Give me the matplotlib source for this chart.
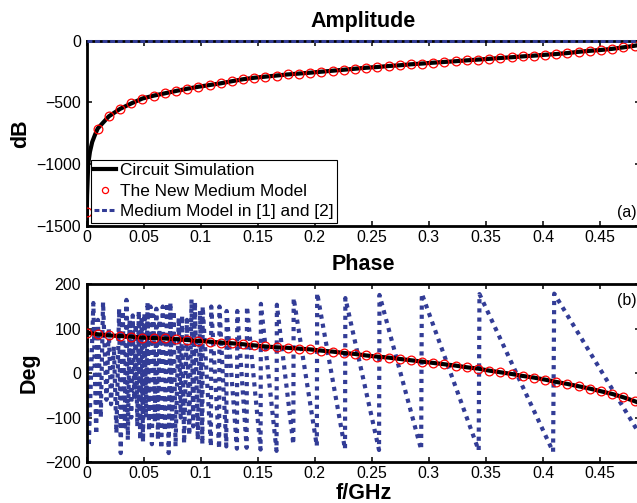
import matplotlib.pyplot as plt

plt.rcParams['font.family'] = ['Liberation Sans', 'DejaVu Sans']

# new medium model, sampled every 0.0098 GHz
model_f = [0.0, 0.0098, 0.0196, 0.0294, 0.0392, 0.049, 0.0588, 0.0686, 0.0784, 0.0882,
           0.098, 0.1078, 0.1176, 0.1274, 0.1372, 0.147, 0.1568, 0.1666, 0.1764, 0.1862,
           0.196, 0.2058, 0.2156, 0.2254, 0.2352, 0.245, 0.2548, 0.2646, 0.2744, 0.2842,
           0.294, 0.3038, 0.3136, 0.3234, 0.3332, 0.343, 0.3528, 0.3626, 0.3724, 0.3822,
           0.392, 0.4018, 0.4116, 0.4214, 0.4312, 0.441, 0.4508, 0.4606, 0.4704, 0.4802]
model_db = [-1385, -711, -612, -552, -508, -468, -445, -426, -407, -389,
            -373, -359, -345, -328, -312, -300, -291, -282, -273, -266,
            -259, -251, -243, -235, -227, -219, -213, -205, -199, -191,
            -185, -178, -172, -166, -159, -153, -147, -140, -134, -127,
            -121, -114, -108, -100, -90, -82, -75, -66, -54, -41]
model_deg = [91, 87.5, 85, 83.5, 82, 80, 79, 78, 76.5, 74.7,
             72.5, 71, 68.7, 67.2, 65, 62.5, 60, 58.2, 57, 55.2,
             53.5, 50.7, 48.5, 45.5, 43.2, 39.8, 37.2, 35, 32, 29,
             26, 23, 20, 17, 13.2, 10.2, 5.7, 2, -1.8, -6.3,
             -10, -14.6, -19.8, -24.3, -29.5, -34.8, -40.8, -46.8, -54.3, -63]

# circuit simulation (same curve, denser near 0, runs to the band edge)
sim_f = [0.0, 0.0005, 0.0015, 0.003, 0.005, 0.0075] + model_f[1:] + [0.485]
sim_db = [-1500, -1250, -1000, -900, -820, -760] + model_db[1:] + [-33]
sim_phase_f = model_f + [0.485]
sim_deg = model_deg + [-68]

# medium model in [1] and [2]
old_amp_f = [0.0, 0.485]
old_db = [0, 0]
old_f = [0.0000, 0.0020, 0.0060, 0.0085, 0.0100, 0.0125, 0.0145, 0.0175, 0.0195, 0.0215,
         0.0240, 0.0262, 0.0286, 0.0300, 0.0318, 0.0335, 0.0350, 0.0362, 0.0378, 0.0392,
         0.0405, 0.0418, 0.0432, 0.0445, 0.0458, 0.0470, 0.0482, 0.0495, 0.0508, 0.0521,
         0.0535, 0.0548, 0.0560, 0.0573, 0.0586, 0.0598, 0.0612, 0.0626, 0.0640, 0.0655,
         0.0668, 0.0685, 0.0706, 0.0720, 0.0735, 0.0750, 0.0764, 0.0780, 0.0808, 0.0825,
         0.0838, 0.0855, 0.0880, 0.0900, 0.0920, 0.0935, 0.0950, 0.0975, 0.0995, 0.1015,
         0.1018, 0.1090, 0.1093, 0.1162, 0.1165, 0.1225, 0.1228, 0.1318, 0.1321, 0.1403,
         0.1406, 0.1525, 0.1528, 0.1665, 0.1668, 0.1812, 0.1815, 0.2018, 0.2021, 0.2265,
         0.2268, 0.2563, 0.2567, 0.2932, 0.2938, 0.3436, 0.3443, 0.4088, 0.4098, 0.485]
old_deg = [118, -165, 158, -138, 120, -100, 160, -60, 100, -70,
           60, -135, 145, -180, 140, -120, 165, -150, 120, -100,
           130, -60, 110, -120, 140, -150, 125, -155, 135, -100,
           160, -130, 150, -160, 130, -110, 145, -150, 120, -170,
           150, -130, 158, -180, 159, -120, 140, -165, 125, -100,
           130, -158, 120, -140, 166, -120, 160, -150, 140, -160,
           150, -165, 150, -170, 150, -165, 140, -170, 140, -168,
           150, -172, 156, -175, 154, -160, 169, -164, 180, -171,
           169, -173, 176, -172, 179, -174, 178, -177, 179, -139]

xticks = [0, 0.05, 0.1, 0.15, 0.2, 0.25, 0.3, 0.35, 0.4, 0.45]
xlabels = ['0', '0.05', '0.1', '0.15', '0.2', '0.25', '0.3', '0.35', '0.4', '0.45']
amp_ticks = [-1500, -1000, -500, 0]
amp_labels = ['\u22121500', '\u22121000', '\u2212500', '0']
deg_ticks = [-200, -100, 0, 100, 200]
deg_labels = ['\u2212200', '\u2212100', '0', '100', '200']

blue = '#323c96'

fig = plt.figure(figsize=(6.37, 5.03), dpi=100)
ax1 = fig.add_axes([0.1358, 0.5507, 0.869, 0.3684])
ax2 = fig.add_axes([0.1358, 0.0815, 0.869, 0.3533])

ax1.plot(sim_f, sim_db, color='black', lw=3, label='Circuit Simulation', zorder=3)
ax1.plot(model_f, model_db, ls='none', marker='o', ms=6.3, mfc='none', mec='red', mew=0.9,
         label='The New Medium Model', zorder=4)
ax1.plot(old_amp_f, old_db, color=blue, lw=2.2, ls=(0, (1.6, 0.87)),
         label='Medium Model in [1] and [2]', clip_on=False, zorder=5)

ax2.plot(old_f, old_deg, color=blue, lw=3, ls=(0, (1, 1.2)), zorder=2)
ax2.plot(sim_phase_f, sim_deg, color='black', lw=3, zorder=3)
ax2.plot(model_f, model_deg, ls='none', marker='o', ms=6.3, mfc='none', mec='red', mew=0.9,
         zorder=4)

for ax in (ax1, ax2):
    ax.set_xlim(0, 0.485)
    ax.set_xticks(xticks)
    ax.set_xticklabels(xlabels)
    ax.tick_params(direction='in', top=True, right=True, length=3.6, width=1.1,
                   labelsize=11.4, pad=3)
    ax.tick_params(axis='y', pad=4)
    for s in ax.spines.values():
        s.set_linewidth(2)

ax1.set_ylim(-1500, 0)
ax1.set_yticks(amp_ticks)
ax1.set_yticklabels(amp_labels)
ax2.set_ylim(-200, 200)
ax2.set_yticks(deg_ticks)
ax2.set_yticklabels(deg_labels)

ax1.set_title('Amplitude', fontsize=15.5, fontweight='bold', pad=10)
ax2.set_title('Phase', fontsize=15.5, fontweight='bold', pad=10)
ax1.set_ylabel('dB', fontsize=15.5, fontweight='bold', labelpad=4)
ax2.set_ylabel('Deg', fontsize=15.5, fontweight='bold', labelpad=4)
ax2.set_xlabel('f/GHz', fontsize=15.5, fontweight='bold', labelpad=1)

ax1.text(0.993, 0.049, '(a)', transform=ax1.transAxes, ha='right', va='baseline',
         fontsize=11.4)
ax2.text(0.993, 0.883, '(b)', transform=ax2.transAxes, ha='right', va='baseline',
         fontsize=11.4)

leg = ax1.legend(loc='lower left', bbox_to_anchor=(0.008, 0.018), borderaxespad=0,
                 fontsize=12.4, fancybox=False, edgecolor='black', framealpha=1,
                 handlelength=1.28, handletextpad=0.23, borderpad=0.2,
                 labelspacing=0.32, numpoints=1, markerscale=0.7)
leg.get_frame().set_linewidth(0.8)

fig.savefig('out.png', dpi=100)
